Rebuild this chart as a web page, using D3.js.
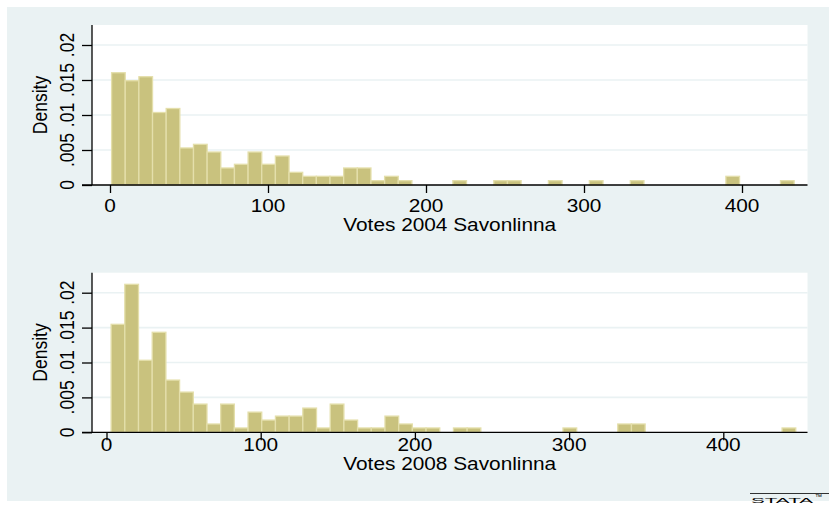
<!DOCTYPE html>
<html>
<head>
<meta charset="utf-8">
<script src="https://cdn.jsdelivr.net/npm/d3@7"></script>
<style>
  html, body { margin: 0; padding: 0; background: #ffffff; }
  svg { display: block; }
  text { font-family: "Liberation Sans", Arial, Helvetica, sans-serif; fill: #000; }
</style>
</head>
<body>
<svg id="chart" width="829" height="508"></svg>
<script>
// ---------------- DATA ----------------
const binCount = 50;
const range2004 = [1, 433];
const range2008 = [3, 447];

const density2004 = [
  0.01604, 0.01490, 0.01547, 0.01036, 0.01093, 0.00529, 0.00581, 0.00471, 0.00243, 0.00296,
  0.00471, 0.00296, 0.00414, 0.00181, 0.00124, 0.00124, 0.00124, 0.00243, 0.00243, 0.00062,
  0.00124, 0.00062, 0, 0, 0, 0.00062, 0, 0, 0.00062, 0.00062,
  0, 0, 0.00062, 0, 0, 0.00062, 0, 0, 0.00062, 0,
  0, 0, 0, 0, 0, 0.00124, 0, 0, 0, 0.00062
];

const density2008 = [
  0.01547, 0.02120, 0.01032, 0.01433, 0.00748, 0.00576, 0.00404, 0.00119, 0.00404, 0.00062,
  0.00289, 0.00175, 0.00232, 0.00232, 0.00347, 0.00062, 0.00404, 0.00175, 0.00062, 0.00062,
  0.00232, 0.00119, 0.00062, 0.00062, 0, 0.00062, 0.00062, 0, 0, 0,
  0, 0, 0, 0.00062, 0, 0, 0, 0.00119, 0.00119, 0,
  0, 0, 0, 0, 0, 0, 0, 0, 0, 0.00062
];

const xTicks = [0, 100, 200, 300, 400];
const yTicks = [0, 0.005, 0.01, 0.015, 0.02];
const yTickLabels = ["0", ".005", ".01", ".015", ".02"];
const xTitles = ["Votes 2004 Savonlinna", "Votes 2008 Savonlinna"];
const yTitle = "Density";

// ---------------- STYLE / LAYOUT ----------------
const SX = 1.19;          // horizontal stretch of the original picture
const FONT = 17.5;
const bgColor = "#eaf2f3";
const gridColor = "#eaf2f3";
const barFill = "#c9c27e";
const barStroke = "#e4dfab";

const panels = [
  { values: density2004, range: range2004, title: xTitles[0],
    left: 92, right: 807.5, top: 25, bottom: 185,
    x0: 110, x400: 742, y02: 45,
    tickLabelY: 212, titleY: 230.5 },
  { values: density2008, range: range2008, title: xTitles[1],
    left: 92, right: 807.5, top: 272.7, bottom: 432.3,
    x0: 106.5, x400: 723.3, y02: 292.7,
    tickLabelY: 451, titleY: 469.5 }
];

const svg = d3.select("#chart");

// graph region background
svg.append("rect")
  .attr("x", 7).attr("y", 7)
  .attr("width", 829 - 7).attr("height", 501 - 7)
  .attr("fill", bgColor);

function stretchedText(g, x, y, txt, anchor, rotate) {
  return g.append("text")
    .attr("transform", `translate(${x},${y}) scale(${SX},1)` + (rotate ? ` rotate(${rotate})` : ""))
    .attr("text-anchor", anchor)
    .attr("font-size", FONT)
    .text(txt);
}

panels.forEach(p => {
  const g = svg.append("g");
  const x = d3.scaleLinear().domain([0, 400]).range([p.x0, p.x400]);
  const y = d3.scaleLinear().domain([0, 0.02]).range([p.bottom, p.y02]);

  // plot region
  g.append("rect")
    .attr("x", p.left).attr("y", p.top)
    .attr("width", p.right - p.left).attr("height", p.bottom - p.top)
    .attr("fill", "#ffffff");

  // grid lines
  g.selectAll("line.grid")
    .data(yTicks.filter(d => d > 0))
    .join("line")
    .attr("class", "grid")
    .attr("x1", p.left).attr("x2", p.right)
    .attr("y1", d => y(d)).attr("y2", d => y(d))
    .attr("stroke", gridColor).attr("stroke-width", 1.6);

  // bins
  const w = (p.range[1] - p.range[0]) / binCount;
  const bins = p.values.map((v, i) => ({ x0: p.range[0] + i * w, x1: p.range[0] + (i + 1) * w, v }));

  g.selectAll("rect.bar")
    .data(bins.filter(b => b.v > 0))
    .join("rect")
    .attr("class", "bar")
    .attr("x", b => x(b.x0))
    .attr("width", b => x(b.x1) - x(b.x0))
    .attr("y", b => y(b.v))
    .attr("height", b => y(0) - y(b.v))
    .attr("fill", barFill)
    .attr("stroke", barStroke)
    .attr("stroke-width", 1.3);

  // y axis
  const yAxis = d3.axisLeft(y).tickValues(yTicks).tickSize(10).tickFormat("");
  const ya = g.append("g").attr("transform", `translate(${p.left},0)`).call(yAxis);
  ya.select(".domain").remove();
  ya.selectAll(".tick line").attr("stroke", "#000").attr("stroke-width", 1.3);
  g.append("line")
    .attr("x1", p.left).attr("x2", p.left)
    .attr("y1", p.top).attr("y2", p.bottom)
    .attr("stroke", "#000").attr("stroke-width", 1.3);

  yTicks.forEach((t, i) => {
    stretchedText(g, 73.5, y(t), yTickLabels[i], "middle", -90);
  });

  // x axis
  const xAxis = d3.axisBottom(x).tickValues(xTicks).tickSize(8).tickFormat("");
  const xa = g.append("g").attr("transform", `translate(0,${p.bottom})`).call(xAxis);
  xa.select(".domain").remove();
  xa.selectAll(".tick line").attr("stroke", "#000").attr("stroke-width", 1.3);
  g.append("line")
    .attr("x1", p.left - 10).attr("x2", p.right)
    .attr("y1", p.bottom).attr("y2", p.bottom)
    .attr("stroke", "#000").attr("stroke-width", 1.3);

  xTicks.forEach(t => {
    stretchedText(g, x(t), p.tickLabelY, String(t), "middle");
  });

  // titles
  stretchedText(g, (p.left + p.right) / 2, p.titleY, p.title, "middle");
  stretchedText(g, 47, (p.top + p.bottom) / 2, yTitle, "middle", -90);
});

// stata logo
const logo = svg.append("g");
logo.append("line")
  .attr("x1", 750).attr("x2", 829).attr("y1", 493.5).attr("y2", 493.5)
  .attr("stroke", "#000").attr("stroke-width", 0.8);
logo.append("text")
  .attr("x", 751).attr("y", 502.5)
  .attr("font-size", 11)
  .attr("font-family", "'DejaVu Sans', sans-serif")
  .attr("textLength", 62).attr("lengthAdjust", "spacingAndGlyphs")
  .style("font-variant", "small-caps")
  .text("stata");
logo.append("text")
  .attr("x", 815).attr("y", 499)
  .attr("font-size", 7)
  .text("™");
</script>
</body>
</html>
